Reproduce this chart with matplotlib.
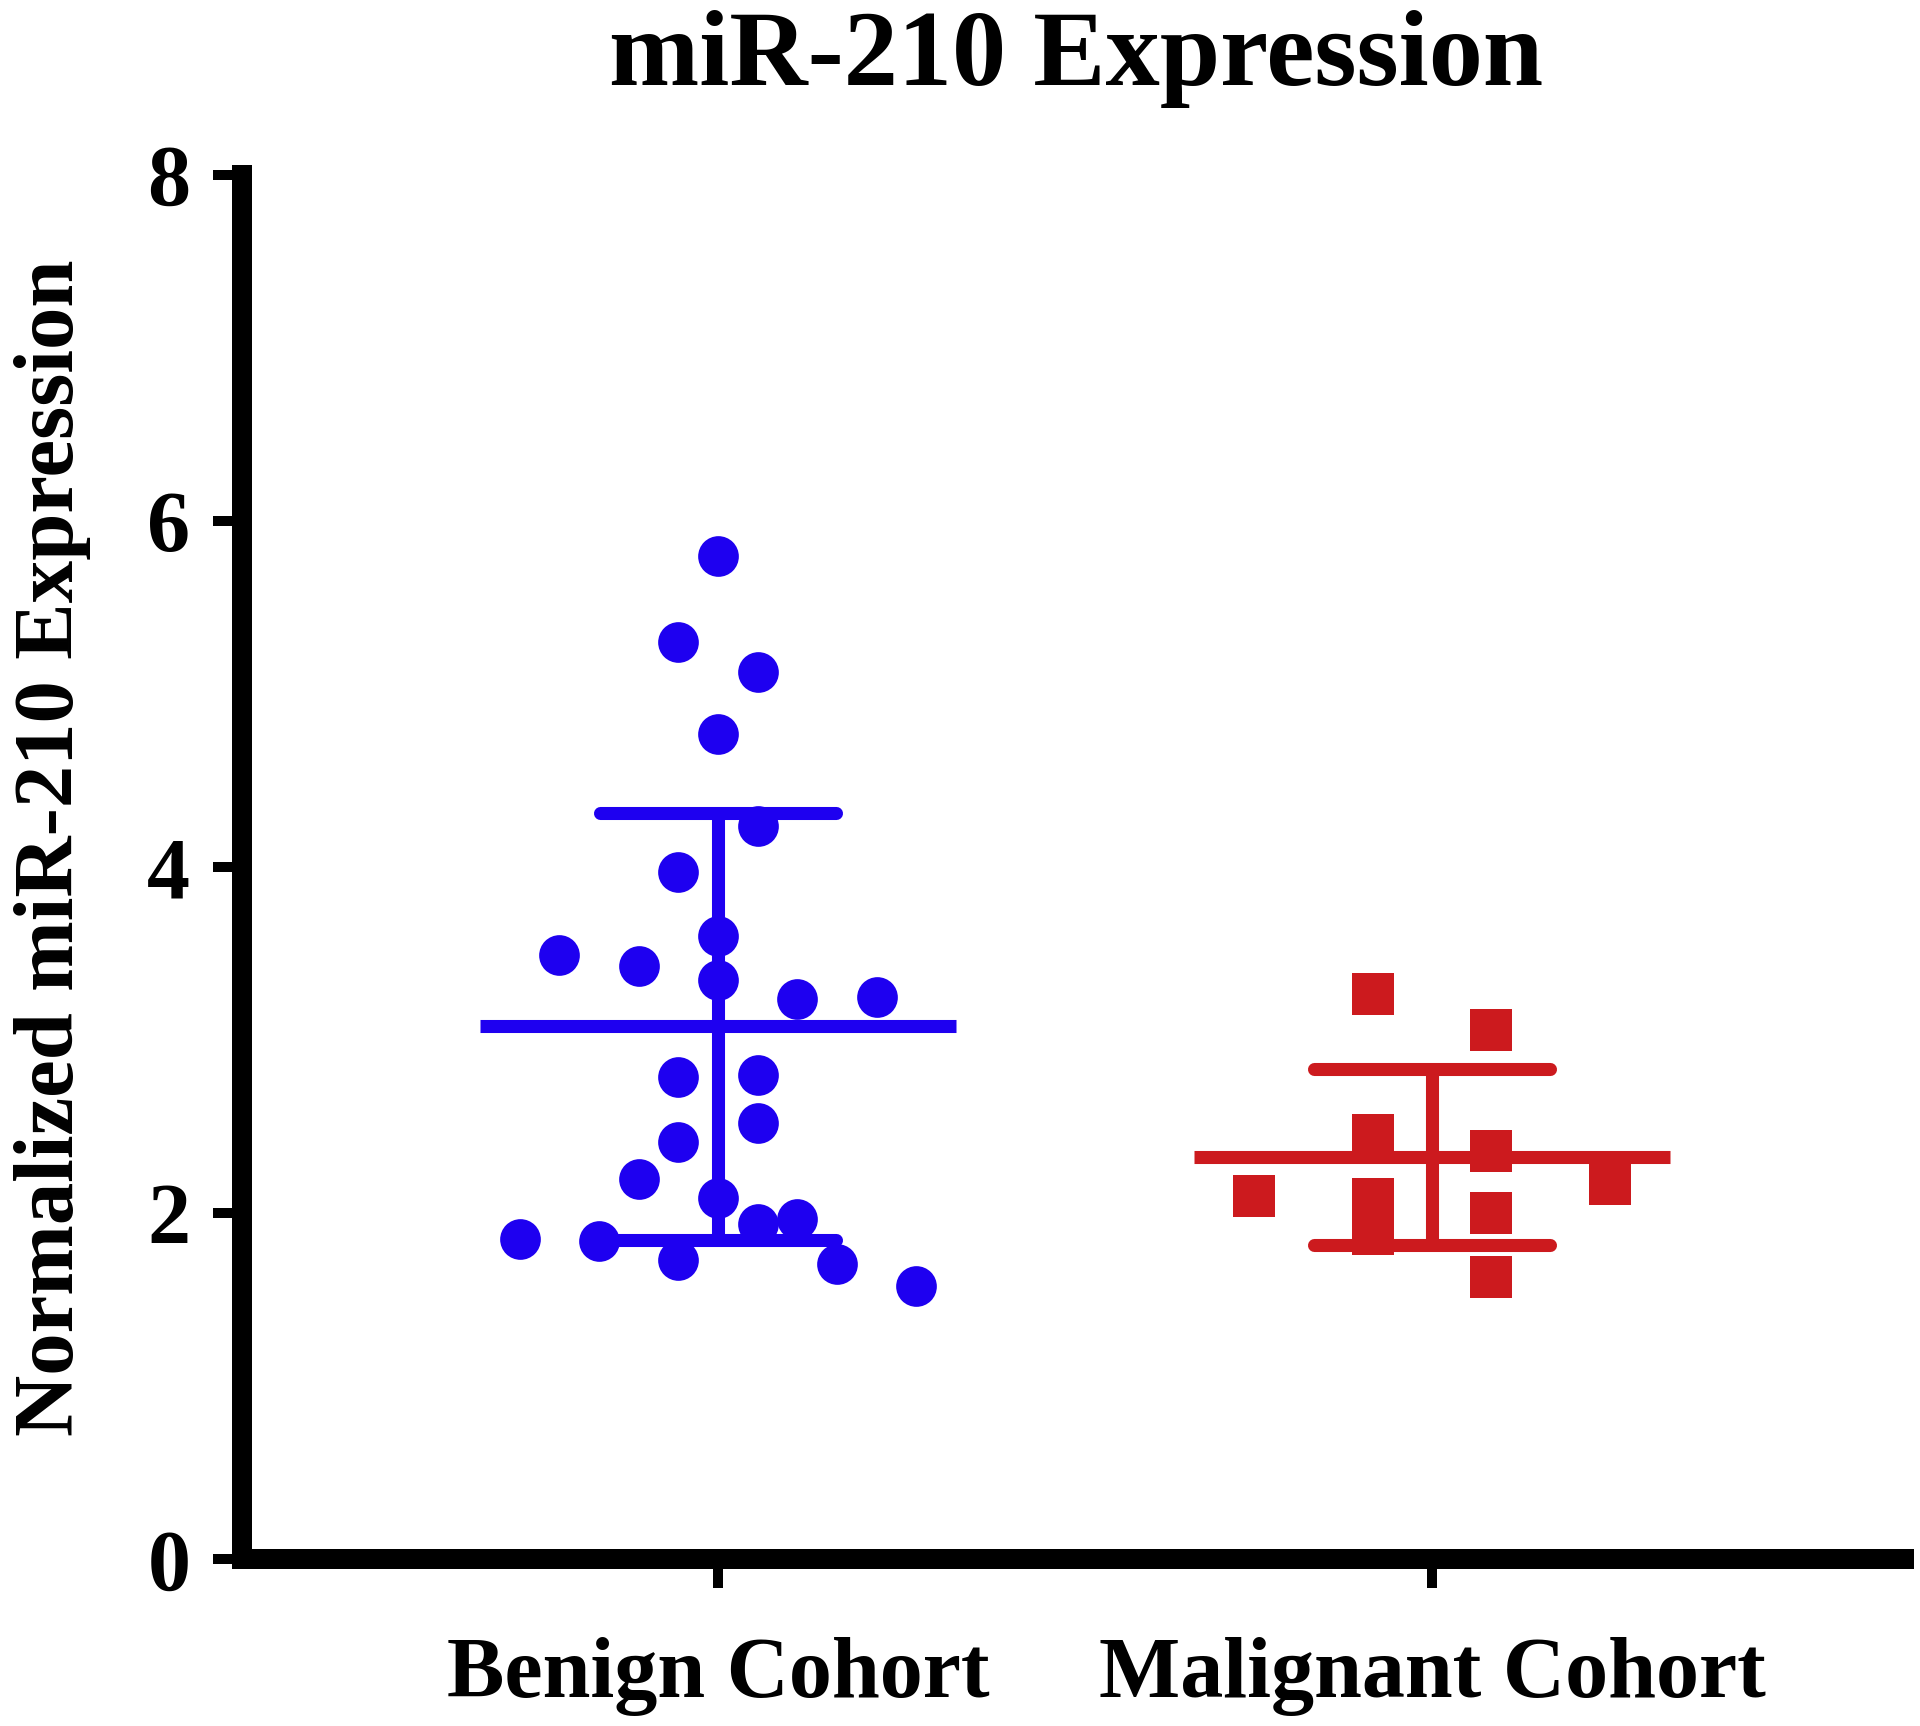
import matplotlib
matplotlib.use("Agg")
import matplotlib.pyplot as plt

plt.rcParams['font.family'] = ['Liberation Serif', 'DejaVu Serif']

# ---- data ----
categories = ['Benign Cohort', 'Malignant Cohort']
title_text = 'miR-210 Expression'
ylabel_text = 'Normalized miR-210 Expression'
y_ticks = [0, 2, 4, 6, 8]

benign_values = [5.80, 5.30, 5.13, 4.77, 4.24, 3.97, 3.60, 3.49, 3.43, 3.35,
                 3.24, 3.25, 2.79, 2.80, 2.52, 2.41, 2.20, 2.09, 1.94, 1.97,
                 1.85, 1.84, 1.73, 1.71, 1.58]
benign_jitter = [0, -1, 1, 0, 1, -1, 0, -4, -2, 0,
                 2, 4, -1, 1, 1, -1, -2, 0, 1, 2,
                 -5, -3, -1, 3, 5]

malignant_values = [3.27, 3.06, 2.455, 2.36, 2.10, 2.08, 1.88, 2.00, 1.63, 2.17]
malignant_jitter = [-0.5, 0.5, -0.5, 0.5, -1.5, -0.5, -0.5, 0.5, 0.5, 1.5]

group_means = [3.08, 2.325]
group_sds = [1.235, 0.51]

# ---- styles ----
blue = '#1E00F0'
red = '#CC1A1E'
colors = [blue, red]
jitter_step = [0.0555, 0.166]

fig = plt.figure(figsize=(19.2, 17.26), dpi=100)
ax = fig.add_axes([0.1259, 0.0965, 0.9917 - 0.1259, 0.8021])
ax.set_xlim(-0.667, 1.661)
ax.set_ylim(0, 8)

for s in ['top', 'right']:
    ax.spines[s].set_visible(False)
for s in ['left', 'bottom']:
    ax.spines[s].set_linewidth(14.4)
    ax.spines[s].set_color('black')

lw = 9.4
# summary lines (mean +/- SD)
for i in range(2):
    m, sd, c = group_means[i], group_sds[i], colors[i]
    ax.plot([i - 0.333, i + 0.333], [m, m], color=c, lw=lw,
            solid_capstyle='butt', zorder=2)
    ax.plot([i, i], [m - sd, m + sd], color=c, lw=lw,
            solid_capstyle='butt', zorder=2)
    for v in (m - sd, m + sd):
        ax.plot([i - 0.165, i + 0.165], [v, v], color=c, lw=lw,
                solid_capstyle='round', zorder=2)

bx = [0 + k * jitter_step[0] for k in benign_jitter]
ax.plot(bx, benign_values, 'o', ms=29.3, mew=0, color=blue, zorder=3)
mx = [1 + k * jitter_step[1] for k in malignant_jitter]
ax.plot(mx, malignant_values, 's', ms=29.9, mew=0, color=red, zorder=3)

ax.set_yticks(y_ticks)
ax.set_yticklabels([str(t) for t in y_ticks], fontsize=62, fontweight='bold')
ax.set_xticks([0, 1])
ax.set_xticklabels(categories, fontsize=62, fontweight='bold')
ax.tick_params(axis='both', width=7.2, length=21, direction='out', color='black')
ax.tick_params(axis='y', pad=16)
ax.tick_params(axis='x', pad=35)

fig.text(0.5607, 0.9508, title_text, ha='center', va='baseline',
         fontsize=78, fontweight='bold')
fig.text(0.0271, 0.5087, ylabel_text, rotation=90, ha='center', va='center',
         fontsize=61, fontweight='bold')

fig.savefig('out.png', dpi=100)
